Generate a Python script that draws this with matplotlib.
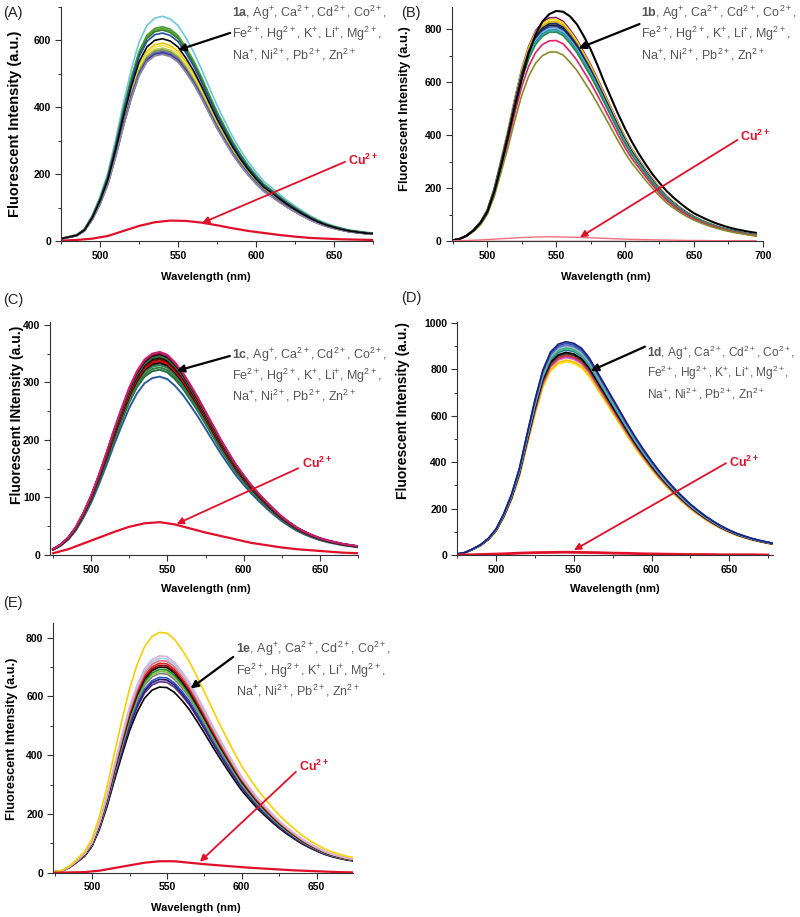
import matplotlib
matplotlib.use('Agg')
import matplotlib.pyplot as plt
import numpy as np
from matplotlib.ticker import MultipleLocator

plt.rcParams['font.family'] = ['Liberation Sans', 'DejaVu Sans']
plt.rcParams['mathtext.fontset'] = 'custom'
plt.rcParams['mathtext.rm'] = 'Liberation Sans'
plt.rcParams['mathtext.bf'] = 'Liberation Sans:bold'
plt.rcParams['mathtext.it'] = 'Liberation Sans:italic'

# ---- (A) 1a ----
wl_a = list(range(475, 680, 5))
base_a = [7, 12, 17, 33, 70, 121, 185, 275, 375, 465, 540, 585, 605, 610, 603, 585, 552, 513, 467, 417,
          368, 325, 283, 247, 215, 187, 162, 145, 127, 110, 95, 81, 68, 57, 48, 41, 35, 30, 27, 24, 22]
peaks_a = [672, 641, 636, 631, 622, 592, 585, 577, 572, 567, 563, 560, 558, 605]
colors_a = ['#6cc8dc', '#3aa03a', '#6b9a23', '#2e7d32', '#2050a0', '#e8c800', '#f5e050', '#a8cc40',
            '#8a8a50', '#5a6ab0', '#283c8c', '#7a4a9a', '#8a8aa8', '#000000']
cu_wl_a = list(range(475, 680, 10))
cu_a = [1, 3, 7, 15, 30, 45, 56, 61, 60, 55, 47, 38, 30, 24, 18, 13, 9, 7, 5, 4, 3]

# ---- (B) 1b ----
wl_b = list(range(475, 700, 5))
base_b = [3, 8, 20, 40, 68, 112, 188, 290, 395, 510, 615, 695, 750, 782, 797, 798, 785, 755, 720, 675,
          630, 580, 528, 475, 422, 372, 328, 292, 256, 222, 190, 162, 140, 120, 103, 88, 76, 65, 56, 48,
          41, 35, 30, 25, 21]
black_b = [3, 8, 20, 40, 68, 110, 185, 285, 395, 510, 615, 710, 780, 830, 858, 870, 867, 850, 820, 775,
           725, 665, 600, 540, 480, 425, 375, 330, 290, 252, 220, 190, 165, 143, 123, 105, 92, 80, 69, 60,
           52, 45, 40, 35, 31]
peaks_b = [845, 838, 830, 826, 822, 816, 810, 805, 798, 795, 790, 758, 715]
colors_b = ['#8b1a8b', '#f0e000', '#e0a800', '#c8c820', '#1a237e', '#202020', '#2040b0', '#7fb0e0',
            '#00808a', '#30b0c0', '#2a8a4a', '#e0206a', '#8a8a2a']
cu_wl_b = list(range(475, 700, 10))
cu_b = [1, 2, 4, 7, 10, 13, 15, 16, 15, 14, 12, 10, 8, 6, 5, 4, 3, 2, 2, 1, 1, 1, 1]

# ---- (C) 1c ----
wl_c = list(range(475, 680, 5))
base_c = [10, 18, 30, 48, 73, 102, 137, 175, 215, 252, 287, 315, 335, 345, 348, 343, 330, 313, 292, 270,
          246, 222, 198, 176, 155, 137, 120, 105, 91, 78, 66, 56, 47, 40, 34, 29, 25, 22, 19, 17, 15]
peaks_c = [310, 322, 326, 330, 333, 335, 337, 340, 343, 345, 347, 349, 351, 353]
colors_c = ['#2a5aa0', '#1f6f3f', '#3a7a3a', '#2e8b57', '#404040', '#000000', '#e01010', '#8b0000',
            '#000000', '#1a7a1a', '#606060', '#000000', '#a0204a', '#c81e6e']
cu_wl_c = list(range(475, 680, 10))
cu_c = [3, 10, 20, 30, 40, 49, 55, 57, 53, 46, 39, 33, 27, 21, 17, 13, 10, 8, 6, 4, 3]

# ---- (D) 1d ----
wl_d = list(range(475, 685, 5))
base_d = [4, 10, 25, 42, 68, 107, 170, 250, 355, 497, 635, 755, 830, 862, 872, 865, 845, 805, 750, 695,
          640, 585, 530, 478, 430, 385, 343, 305, 270, 238, 208, 182, 158, 137, 118, 102, 88, 77, 67, 59,
          52, 46]
peaks_d = [833, 840, 851, 856, 861, 868, 874, 884, 890, 896, 900, 906, 913, 920]
colors_d = ['#ffe000', '#f0c000', '#e070b0', '#c040a0', '#d03030', '#303030', '#000000', '#208080',
            '#40b0b0', '#3cb043', '#a0c0e0', '#6070c0', '#3050b0', '#1a237e']
cu_wl_d = list(range(475, 685, 10))
cu_d = [0, 1, 3, 5, 8, 10, 11, 12, 11, 10, 8, 7, 5, 4, 3, 2, 2, 1, 1, 1, 0]

# ---- (E) 1e ----
wl_e = list(range(475, 680, 5))
base_e = [3, 7, 20, 40, 62, 100, 165, 250, 350, 445, 535, 605, 658, 688, 700, 698, 680, 650, 615, 572,
          527, 480, 435, 392, 350, 310, 277, 245, 218, 192, 168, 147, 128, 110, 95, 82, 70, 61, 54, 48, 44]
peaks_e = [632, 650, 658, 665, 678, 685, 692, 700, 706, 713, 722, 730, 738, 818]
colors_e = ['#000000', '#6a2a8a', '#1a1a6e', '#3050c0', '#808080', '#7cc040', '#228b22', '#000000',
            '#8b0000', '#e02020', '#e07090', '#a0d0e0', '#d8b0d8', '#f5d000']
cu_wl_e = list(range(475, 680, 10))
cu_e = [0, 1, 2, 7, 16, 25, 34, 39, 39, 34, 29, 25, 21, 17, 14, 11, 8, 6, 4, 2, 1]

ion_lines = [r", Ag$^{+}$, Ca$^{2+}$, Cd$^{2+}$, Co$^{2+}$,",
             r"Fe$^{2+}$, Hg$^{2+}$, K$^{+}$, Li$^{+}$, Mg$^{2+}$,",
             r"Na$^{+}$, Ni$^{2+}$, Pb$^{2+}$, Zn$^{2+}$"]

RED = '#e0102a'
GRAY = '#555555'

fig = plt.figure(figsize=(8, 9.17), dpi=100)


def setup_axes(ax, xlim, ylim, ymaj, ylabel, ylab_pos, xlab_pos, ylab_size):
    ax.set_xlim(*xlim)
    ax.set_ylim(*ylim)
    ax.xaxis.set_major_locator(MultipleLocator(50))
    ax.xaxis.set_minor_locator(MultipleLocator(25))
    ax.yaxis.set_major_locator(MultipleLocator(ymaj))
    ax.yaxis.set_minor_locator(MultipleLocator(ymaj / 2))
    for s in ['top', 'right']:
        ax.spines[s].set_visible(False)
    for s in ['left', 'bottom']:
        ax.spines[s].set_color('#333333')
        ax.spines[s].set_linewidth(0.8)
    ax.tick_params(which='major', direction='out', length=4, width=0.8, color='#333333', pad=3,
                   labelsize=7.5)
    ax.tick_params(which='minor', direction='out', length=2.5, width=0.7, color='#333333')
    for lab in ax.get_xticklabels() + ax.get_yticklabels():
        lab.set_fontweight('bold')
    ax.set_ylabel(ylabel, fontsize=ylab_size, fontweight='bold', va='center')
    ax.yaxis.set_label_coords(*ylab_pos)
    ax.set_xlabel('Wavelength (nm)', fontsize=8, fontweight='bold', va='center')
    ax.xaxis.set_label_coords(*xlab_pos)


def annotate(ax, tag, text_x, baselines, black_tail, black_head, red_tail, red_head, cu_pos, fs=9):
    first = r"$\mathbf{" + tag + "}$" + ion_lines[0]
    for line, yb in zip([first, ion_lines[1], ion_lines[2]], baselines):
        ax.text(text_x, yb, line, transform=ax.transAxes, fontsize=fs, color=GRAY,
                ha='left', va='baseline', clip_on=False)
    ax.annotate('', xy=black_head, xytext=black_tail, xycoords='axes fraction',
                arrowprops=dict(arrowstyle='-|>', color='black', lw=1.6, mutation_scale=11,
                                shrinkA=0, shrinkB=0))
    ax.annotate('', xy=red_head, xytext=red_tail, xycoords='axes fraction',
                arrowprops=dict(arrowstyle='-|>', color=RED, lw=1.3, mutation_scale=10,
                                shrinkA=0, shrinkB=0))
    ax.text(cu_pos[0], cu_pos[1], r"Cu$^{\mathbf{2+}}$", transform=ax.transAxes, fontsize=9,
            fontweight='bold', color=RED, ha='left', va='center', clip_on=False)


def draw_family(ax, wl, base, peaks, colors, lw=1.2):
    base = np.array(base, dtype=float)
    for pk, c in zip(peaks, colors):
        ax.plot(wl, base / base.max() * pk, color=c, lw=lw)


# (A)
axA = fig.add_axes([0.0763, 0.7372, 0.39, 0.2552])
draw_family(axA, wl_a, base_a, peaks_a, colors_a)
axA.plot(cu_wl_a, cu_a, color=RED, lw=1.6)
setup_axes(axA, (475, 675), (0, 700), 200, 'Fluorescent Intensity (a.u.)',
           (-0.147, 0.50), (0.465, -0.154), 10.5)
annotate(axA, '1a', 0.548, [0.956, 0.866, 0.776], (0.542, 0.889), (0.375, 0.816),
         (0.910, 0.338), (0.452, 0.077), (0.92, 0.346))

# (B)
axB = fig.add_axes([0.5644, 0.7372, 0.389, 0.2552])
axB.plot(cu_wl_b, np.zeros(len(cu_wl_b)), color='#b01020', lw=1.0)
draw_family(axB, wl_b, base_b, peaks_b, colors_b)
axB.plot(wl_b, black_b, color='black', lw=1.5)
axB.plot(cu_wl_b, cu_b, color='#f07080', lw=1.0)
setup_axes(axB, (474, 700), (0, 885), 200, 'Fluorescent Intensity (a.u.)',
           (-0.151, 0.566), (0.497, -0.154), 9.4)
annotate(axB, '1b', 0.608, [0.956, 0.866, 0.776], (0.604, 0.927), (0.408, 0.823),
         (0.919, 0.432), (0.413, 0.016), (0.927, 0.449))

# (C)
axC = fig.add_axes([0.0625, 0.3948, 0.385, 0.2541])
draw_family(axC, wl_c, base_c, peaks_c, colors_c, lw=1.4)
axC.plot(cu_wl_c, cu_c, color=RED, lw=1.6)
setup_axes(axC, (473, 675), (0, 405), 100, 'Fluorescent INtensity (a.u.)',
           (-0.107, 0.60), (0.505, -0.146), 10.0)
annotate(axC, '1c', 0.59, [0.841, 0.751, 0.661], (0.584, 0.854), (0.411, 0.790),
         (0.806, 0.372), (0.411, 0.133), (0.817, 0.394))

# (D)
axD = fig.add_axes([0.5716, 0.3948, 0.3943, 0.2541])
draw_family(axD, wl_d, base_d, peaks_d, colors_d)
axD.plot(cu_wl_d, cu_d, color=RED, lw=2.0)
setup_axes(axD, (475, 678), (0, 1005), 200, 'Fluorescent Intensity (a.u.)',
           (-0.171, 0.62), (0.50, -0.146), 10.0)
annotate(axD, '1d', 0.603, [0.851, 0.763, 0.673], (0.595, 0.894), (0.423, 0.79),
         (0.852, 0.394), (0.370, 0.021), (0.862, 0.396), fs=8.6)

# (E)
axE = fig.add_axes([0.0665, 0.0483, 0.375, 0.2723])
draw_family(axE, wl_e, base_e, peaks_e, colors_e)
axE.plot(cu_wl_e, cu_e, color=RED, lw=1.6)
setup_axes(axE, (474, 674.5), (0, 850), 200, 'Fluorescent Intensity (a.u.)',
           (-0.137, 0.535), (0.474, -0.14), 9.2)
annotate(axE, '1e', 0.609, [0.880, 0.793, 0.709], (0.600, 0.864), (0.458, 0.738),
         (0.809, 0.404), (0.489, 0.044), (0.820, 0.427))

# panel letters
for lbl, x, y in [('(A)', 0.004, 0.986), ('(B)', 0.502, 0.986), ('(C)', 0.004, 0.673),
                  ('(D)', 0.502, 0.675), ('(E)', 0.004, 0.342)]:
    fig.text(x, y, lbl, fontsize=10.5, ha='left', va='center', color='#222222')

fig.savefig('out.png', dpi=100)
